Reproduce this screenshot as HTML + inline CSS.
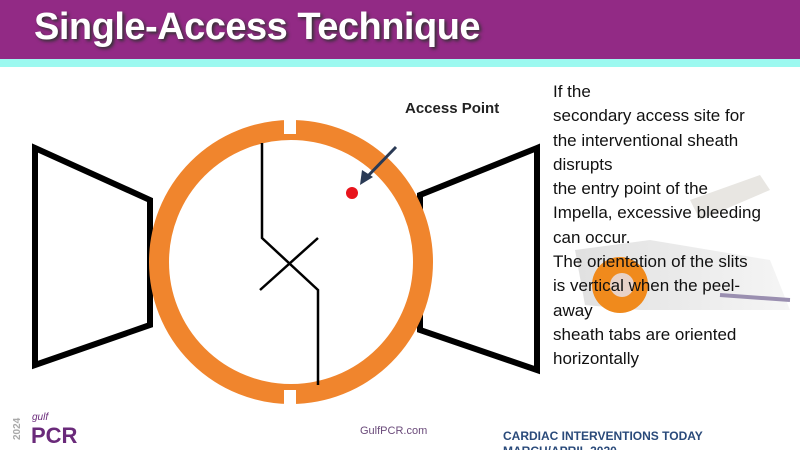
<!DOCTYPE html>
<html><head><style>
body{margin:0;width:800px;height:450px;overflow:hidden;background:#fff;position:relative;font-family:"Liberation Sans",sans-serif}
.hdr{position:absolute;left:0;top:0;width:800px;height:59px;background:#922a85}
.cy{position:absolute;left:0;top:59px;width:800px;height:8px;background:#9cf9f0}
.title{position:absolute;left:34px;top:6px;font-size:38px;font-weight:bold;color:#fff;text-shadow:2px 2px 3px #333;letter-spacing:-0.5px}
.txt{position:absolute;left:553px;top:80px;font-size:17px;line-height:24.3px;color:#111;width:250px}
</style></head><body>
<div class="hdr"></div><div class="cy"></div>
<div class="title">Single-Access Technique</div>
<svg style="position:absolute;left:0;top:0" width="800" height="450">
<defs><linearGradient id="g" x1="0" x2="1"><stop offset="0" stop-color="#ddd"/><stop offset="1" stop-color="#f4f4f4"/></linearGradient></defs>
<!-- sheath photo approximation -->
<path d="M690 200 L760 175 L770 190 L700 220 Z" fill="#e8e6e2"/>
<path d="M575 250 L650 240 L770 260 L790 310 L640 310 L585 305 Z" fill="url(#g)" opacity="0.9"/>
<line x1="720" y1="295" x2="790" y2="300" stroke="#9a8fb0" stroke-width="4"/>
<circle cx="620" cy="285" r="28" fill="#f08a1c"/>
<circle cx="622" cy="285" r="12" fill="#e8d2c8"/>
<polygon points="35,148 150,200 150,325 35,365" fill="#fff" stroke="#000" stroke-width="6"/>
<polygon points="537,148 420,195 420,330 537,370" fill="#fff" stroke="#000" stroke-width="6"/>
<circle cx="291" cy="262" r="132" fill="#fff" stroke="#f0852d" stroke-width="20"/>
<rect x="284" y="118" width="12" height="16" fill="#fff"/>
<rect x="284" y="390" width="12" height="16" fill="#fff"/>
<polyline points="262,143 262,238 318,290 318,385" fill="none" stroke="#000" stroke-width="2.5"/>
<line x1="260" y1="290" x2="318" y2="238" stroke="#000" stroke-width="2.5"/>
<circle cx="352" cy="193" r="6" fill="#e8141c"/>
<line x1="396" y1="147" x2="366" y2="178" stroke="#2a3a55" stroke-width="3"/>
<polygon points="360,185 362,170 373,177" fill="#2a3a55"/>
<text x="405" y="113" font-family="Liberation Sans,sans-serif" font-size="15" font-weight="bold" fill="#222">Access Point</text>
<text x="20" y="440" font-family="Liberation Sans,sans-serif" font-size="10" font-weight="bold" fill="#aaa" transform="rotate(-90 20 440)">2024</text>
<text x="32" y="420" font-family="Liberation Sans,sans-serif" font-size="10" font-style="italic" fill="#6a2a7a">gulf</text>
<text x="31" y="443" font-family="Liberation Sans,sans-serif" font-size="22" font-weight="bold" fill="#6a2a7a">PCR</text>
<text x="360" y="434" font-family="Liberation Sans,sans-serif" font-size="11" fill="#6a4a7a">GulfPCR.com</text>
<text x="503" y="440" font-family="Liberation Sans,sans-serif" font-size="12" font-weight="bold" fill="#2a4a7a">CARDIAC INTERVENTIONS TODAY</text>
<text x="503" y="455" font-family="Liberation Sans,sans-serif" font-size="12" font-weight="bold" fill="#2a4a7a">MARCH/APRIL 2020</text>
</svg>
<div class="txt">If the<br>secondary access site for<br>the interventional sheath<br>disrupts<br>the entry point of the<br>Impella, excessive bleeding<br>can occur.<br>The orientation of the slits<br>is vertical when the peel-<br>away<br>sheath tabs are oriented<br>horizontally</div>
</body></html>
